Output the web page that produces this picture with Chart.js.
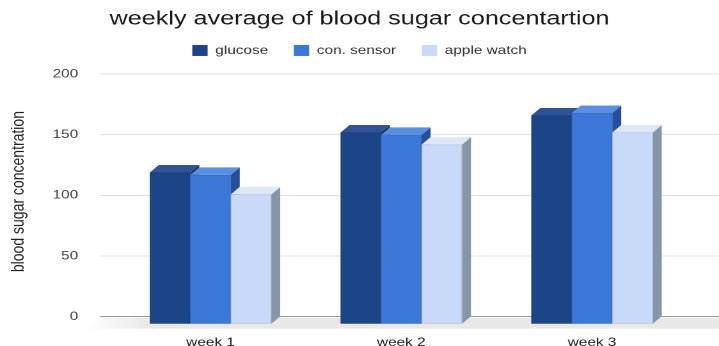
<!DOCTYPE html>
<html><head><meta charset="utf-8">
<script src="https://cdn.jsdelivr.net/npm/chart.js@4"></script>
<style>
html,body{margin:0;padding:0;background:#fff;overflow:hidden}
#wrap{width:562px;height:346px;transform:scaleX(1.27936);transform-origin:0 0}
</style></head><body>
<div id="wrap"><canvas id="c" width="562" height="346"></canvas></div>
<script>
// ---- data ----
const categories = ['week 1', 'week 2', 'week 3'];
const seriesNames = ['glucose', 'con. sensor', 'apple watch'];
const glucose = [125, 158, 172];
const conSensor = [123, 156, 174];
const appleWatch = [107, 148, 158];
const yTicks = [0, 50, 100, 150, 200];

// ---- styles ----
const FONT = "'Liberation Sans', Arial, sans-serif";
const faces = [
  { front: '#1c4587', top: '#2f5496', side: '#132f5f' },
  { front: '#3c78d8', top: '#5a8ee0', side: '#234f9c' },
  { front: '#c9daf8', top: '#dde7f6', side: '#8796a6' }
];
const DX = 7, DY = 7.5;

const seriesValues = [glucose, conSensor, appleWatch];
const datasets = seriesNames.map((name, s) => ({
  label: name,
  data: categories.map((c, i) => ({ x: i, y: seriesValues[s][i] })),
  backgroundColor: faces[s].front,
  borderWidth: 0,
  barThickness: 31.65
}));

function poly(ctx, pts, color) {
  ctx.beginPath();
  ctx.moveTo(pts[0][0], pts[0][1]);
  for (let k = 1; k < pts.length; k++) ctx.lineTo(pts[k][0], pts[k][1]);
  ctx.closePath();
  ctx.fillStyle = color;
  ctx.fill();
}

const bar3d = {
  id: 'bar3d',
  beforeDatasetsDraw(chart) {
    const { ctx, chartArea, scales } = chart;
    const y0 = scales.y.getPixelForValue(0);
    ctx.save();
    // floor
    const g = ctx.createLinearGradient(chartArea.left - 12, 0, chartArea.left + 40, 0);
    g.addColorStop(0, 'rgba(232,232,232,0)');
    g.addColorStop(1, '#e8e8e8');
    ctx.beginPath();
    ctx.moveTo(chartArea.left, y0 + 0.8);
    ctx.lineTo(chartArea.right, y0 + 0.8);
    ctx.lineTo(chartArea.right, y0 + 12);
    ctx.lineTo(chartArea.left - 11, y0 + 12);
    ctx.closePath();
    ctx.fillStyle = g;
    ctx.fill();
    // bars
    const nSeries = chart.data.datasets.length;
    for (let i = 0; i < categories.length; i++) {
      for (let d = 0; d < nSeries; d++) {
        const el = chart.getDatasetMeta(d).data[i];
        const p = el.getProps(['x', 'y', 'base', 'width'], true);
        const bx1 = p.x - p.width / 2, bx2 = p.x + p.width / 2;
        const fx1 = bx1 - DX, fx2 = bx2 - DX, fy = p.y + DY, fb = p.base + DY;
        poly(ctx, [[fx2, fy], [bx2, p.y], [bx2, p.base], [fx2, fb]], faces[d].side);
        poly(ctx, [[fx1, fy], [fx2, fy], [bx2, p.y], [bx1, p.y]], faces[d].top);
        ctx.fillStyle = faces[d].front;
        ctx.fillRect(fx1, fy, p.width, fb - fy);
        ctx.strokeStyle = 'rgba(0,0,0,0.12)';
        ctx.lineWidth = 0.6;
        ctx.strokeRect(fx1 + 0.3, fy + 0.3, p.width - 0.6, fb - fy - 0.6);
      }
    }
    ctx.restore();
    return false;
  }
};

new Chart(document.getElementById('c'), {
  type: 'bar',
  data: { datasets },
  options: {
    responsive: false,
    animation: false,
    devicePixelRatio: 2,
    layout: { padding: 0 },
    scales: {
      x: {
        type: 'linear',
        offset: false,
        min: -0.6265,
        max: 2.6186,
        grid: { display: false },
        border: { display: false },
        afterBuildTicks: (scale) => { scale.ticks = categories.map((c, i) => ({ value: i })); },
        afterFit: (scale) => { scale.height = 29.3; },
        ticks: {
          callback: (v) => categories[v] ?? '',
          labelOffset: -DX,
          padding: 11,
          maxRotation: 0,
          autoSkip: false,
          color: '#222',
          font: { family: FONT, size: 12 }
        }
      },
      y: {
        min: 0,
        max: 206.2,
        afterBuildTicks: (scale) => { scale.ticks = yTicks.map(v => ({ value: v })); },
        afterFit: (scale) => { scale.width = 78.16; },
        grid: {
          drawTicks: false,
          color: (c) => (c.tick && c.tick.value === 0 ? '#9a9a9a' : '#e0e0e0'),
          lineWidth: 1
        },
        border: { display: false },
        ticks: { padding: 17, color: '#444', font: { family: FONT, size: 12 } },
        title: {
          display: true,
          text: 'blood sugar concentration',
          color: '#222',
          font: { family: FONT, size: 14 },
          padding: { top: 6, bottom: 0 }
        }
      }
    },
    plugins: {
      title: {
        display: true,
        text: 'weekly average of blood sugar concentartion',
        color: '#1a1a1a',
        font: { family: FONT, size: 19.7, weight: 'normal', lineHeight: 0.5 },
        padding: { top: 14, bottom: 0.6 }
      },
      legend: {
        position: 'top',
        labels: {
          boxWidth: 12,
          boxHeight: 11,
          padding: 20,
          color: '#333',
          font: { family: FONT, size: 12 }
        }
      },
      tooltip: { enabled: false }
    }
  },
  plugins: [bar3d]
});
</script>
</body></html>
